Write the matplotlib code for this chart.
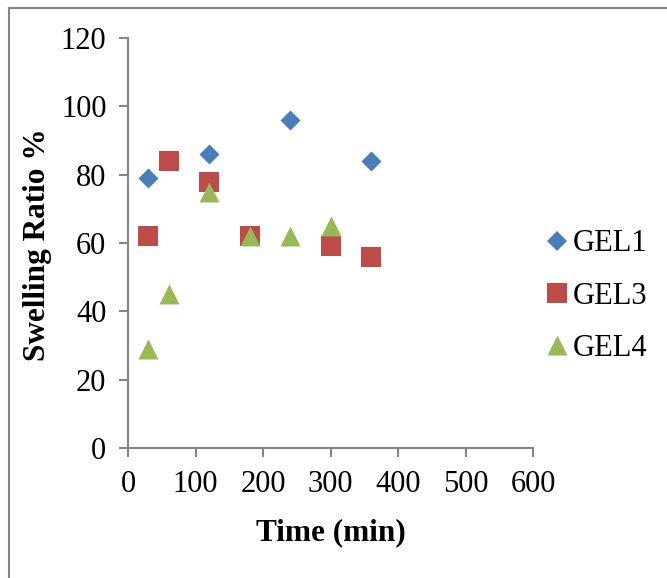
import matplotlib
matplotlib.use("Agg")
import matplotlib.pyplot as plt
from matplotlib.lines import Line2D

# Swelling ratio measurements over time
gel1_time = [30, 120, 240, 360]
gel1_ratio = [79, 86, 96, 84]

gel3_time = [30, 60, 120, 180, 300, 360]
gel3_ratio = [62, 84, 78, 62, 59, 56]

gel4_time = [30, 60, 120, 180, 240, 300]
gel4_ratio = [29, 45, 75, 62, 62, 65]

series_names = ["GEL1", "GEL3", "GEL4"]
x_ticks = [0, 100, 200, 300, 400, 500, 600]
y_ticks = [0, 20, 40, 60, 80, 100, 120]

plt.rcParams["font.family"] = ["Liberation Serif", "DejaVu Serif"]

W, H = 667, 578
fig = plt.figure(figsize=(W / 100, H / 100), dpi=100)
ax = fig.add_axes([128 / W, 1 - 448 / H, 405 / W, 410 / H])

blue, red, green = "#4a7ebb", "#be4b48", "#98b954"
triangle = [(-1, -1), (1, -1), (0, 1)]

ax.scatter(gel1_time, gel1_ratio, marker="D", s=104, color=blue,
           zorder=3, linewidths=0)
ax.scatter(gel3_time, gel3_ratio, marker="s", s=207, color=red,
           zorder=3, linewidths=0)
ax.scatter(gel4_time, gel4_ratio, marker=triangle, s=207, color=green,
           zorder=4, linewidths=0)

ax.set_xlim(0, 600)
ax.set_ylim(0, 120)
ax.set_xticks(x_ticks)
ax.set_yticks(y_ticks)

axis_grey = "#868686"
for side in ("top", "right"):
    ax.spines[side].set_visible(False)
for side in ("left", "bottom"):
    ax.spines[side].set_color(axis_grey)
    ax.spines[side].set_linewidth(1.5)
ax.tick_params(axis="both", direction="out", length=6.5, width=1.5,
               color=axis_grey, labelsize=22, pad=9)

fig.text(330.5 / W, 1 - 540 / H, "Time (min)", fontsize=22.5,
         fontweight="bold", ha="center", va="baseline")
fig.text(45 / W, 1 - 245 / H, "Swelling Ratio %", fontsize=22.5,
         fontweight="bold", ha="center", va="baseline", rotation=90,
         rotation_mode="anchor")

handles = [
    Line2D([], [], linestyle="none", marker="D", markersize=10.2,
           color=blue, markeredgewidth=0),
    Line2D([], [], linestyle="none", marker="s", markersize=14.4,
           color=red, markeredgewidth=0),
    Line2D([], [], linestyle="none", marker=triangle, markersize=14.4,
           color=green, markeredgewidth=0),
]
fig.legend(handles, series_names, loc="center left",
           bbox_to_anchor=(548 / W, 1 - 296 / H), frameon=False,
           fontsize=22, handlelength=0.6, handletextpad=0.22,
           labelspacing=0.76, borderpad=0, borderaxespad=0)

# Outer frame along the top and left edges
frame_kw = dict(color=axis_grey, linewidth=1.5, transform=fig.transFigure)
fig.add_artist(Line2D([9 / W, 1.0], [1 - 8 / H, 1 - 8 / H], **frame_kw))
fig.add_artist(Line2D([9 / W, 9 / W], [0.0, 1 - 8 / H], **frame_kw))

fig.savefig("out.png", dpi=100)
